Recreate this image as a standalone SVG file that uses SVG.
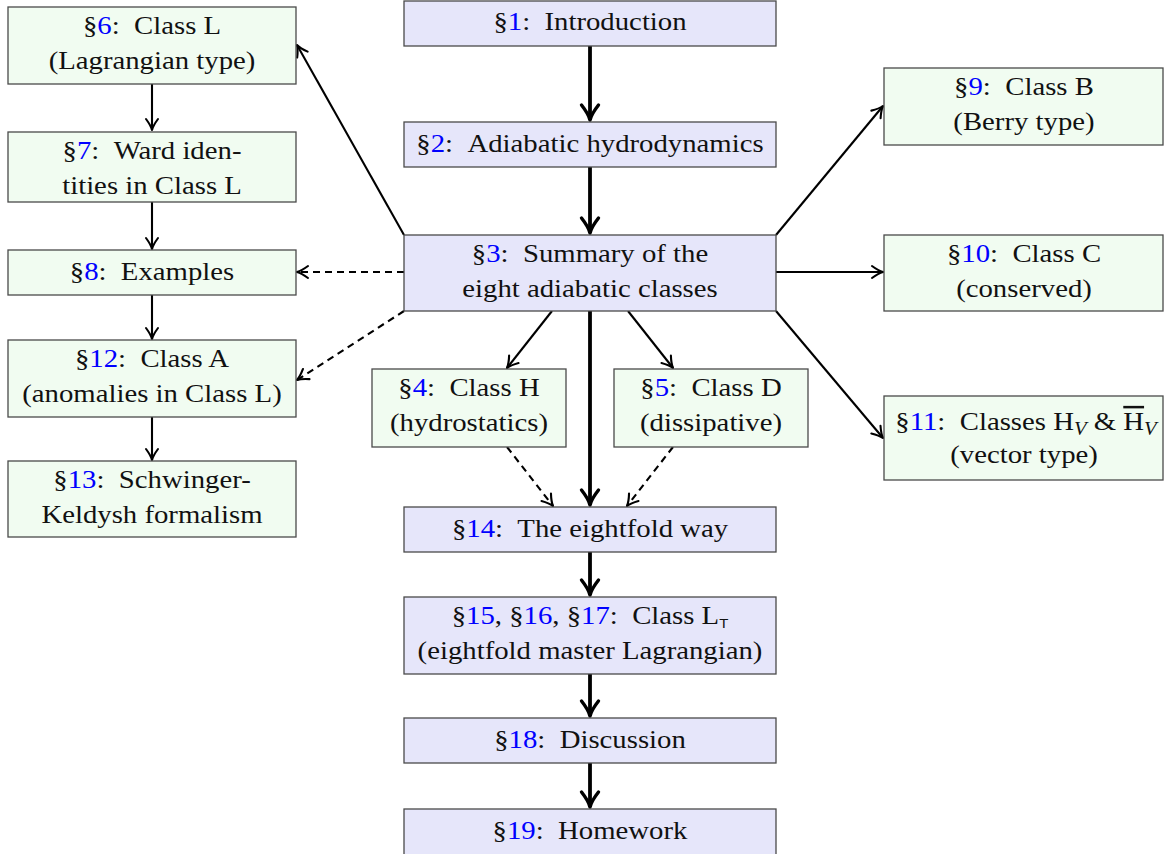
<svg xmlns="http://www.w3.org/2000/svg" width="1164" height="854" viewBox="0 0 1164 854">
<style>
.b{fill:#E6E6FA;stroke:#4a4a4a;stroke-width:1.3}
.g{fill:#F1FCF1;stroke:#4a4a4a;stroke-width:1.3}
text{font-family:"Liberation Serif","Times New Roman",serif;font-size:25px;fill:#111;text-anchor:middle}
.n{fill:#0000ff}
.c{fill:none;stroke:#000;stroke-width:2.1}
.k{fill:none;stroke:#000;stroke-width:3.8}
.d{stroke-dasharray:7 5}
</style>
<defs>
<marker id="ah" markerUnits="userSpaceOnUse" orient="auto" markerWidth="20" markerHeight="20" refX="0" refY="0" style="overflow:visible">
<path d="M-11,-6 Q-4.5,-1.2 0,0 Q-4.5,1.2 -11,6" fill="none" stroke="#000" stroke-width="2.1" stroke-linecap="round" stroke-linejoin="round"/>
</marker>
<marker id="ahk" markerUnits="userSpaceOnUse" orient="auto" markerWidth="30" markerHeight="30" refX="0" refY="0" style="overflow:visible">
<path d="M-15,-8.5 Q-6,-1.5 0,0 Q-6,1.5 -15,8.5" fill="none" stroke="#000" stroke-width="3.4" stroke-linecap="round" stroke-linejoin="round"/>
</marker>
</defs>

<g id="connectors">
<path class="k" d="M590,46 V120" marker-end="url(#ahk)"/>
<path class="k" d="M590,167 V233" marker-end="url(#ahk)"/>
<path class="k" d="M590,311 V505" marker-end="url(#ahk)"/>
<path class="k" d="M590,552 V595" marker-end="url(#ahk)"/>
<path class="k" d="M590,674 V716" marker-end="url(#ahk)"/>
<path class="k" d="M590,763 V807" marker-end="url(#ahk)"/>
<path class="c" d="M152,84 V130" marker-end="url(#ah)"/>
<path class="c" d="M152,202 V249" marker-end="url(#ah)"/>
<path class="c" d="M152,295 V339" marker-end="url(#ah)"/>
<path class="c" d="M152,417 V460" marker-end="url(#ah)"/>
<path class="c" d="M404,235 L297,45" marker-end="url(#ah)"/>
<path class="c d" d="M404,272 L297,272" marker-end="url(#ah)"/>
<path class="c d" d="M404,311 L297,380" marker-end="url(#ah)"/>
<path class="c" d="M552,311 L507,368" marker-end="url(#ah)"/>
<path class="c" d="M628,311 L673,368" marker-end="url(#ah)"/>
<path class="c d" d="M507,447 L553,506" marker-end="url(#ah)"/>
<path class="c d" d="M673,447 L627,506" marker-end="url(#ah)"/>
<path class="c" d="M776,235 L883,106" marker-end="url(#ah)"/>
<path class="c" d="M776,272 L883,272" marker-end="url(#ah)"/>
<path class="c" d="M776,311 L883,438" marker-end="url(#ah)"/>
</g>

<g id="n1"><rect class="b" x="404" y="1" width="372" height="45"/>
<text transform="translate(590,30) scale(1.15,1)">§<tspan class="n">1</tspan>:&#8194;Introduction</text></g>
<g id="n2"><rect class="b" x="404" y="122" width="372" height="45"/>
<text transform="translate(590,152) scale(1.15,1)">§<tspan class="n">2</tspan>:&#8194;Adiabatic hydrodynamics</text></g>
<g id="n3"><rect class="b" x="404" y="235" width="372" height="76"/>
<text transform="translate(590,262) scale(1.15,1)">§<tspan class="n">3</tspan>:&#8194;Summary of the</text>
<text transform="translate(590,297) scale(1.15,1)">eight adiabatic classes</text></g>
<g id="n14"><rect class="b" x="404" y="507" width="372" height="45"/>
<text transform="translate(590,537) scale(1.15,1)">§<tspan class="n">14</tspan>:&#8194;The eightfold way</text></g>
<g id="n15"><rect class="b" x="404" y="597" width="372" height="77"/>
<text transform="translate(590,624) scale(1.15,1)">§<tspan class="n">15</tspan>, §<tspan class="n">16</tspan>, §<tspan class="n">17</tspan>:&#8194;Class L<tspan dy="4" style="font-family:'Liberation Sans',sans-serif;font-size:13px">T</tspan></text>
<text transform="translate(590,659) scale(1.15,1)">(eightfold master Lagrangian)</text></g>
<g id="n18"><rect class="b" x="404" y="718" width="372" height="45"/>
<text transform="translate(590,748) scale(1.15,1)">§<tspan class="n">18</tspan>:&#8194;Discussion</text></g>
<g id="n19"><rect class="b" x="404" y="809" width="372" height="47"/>
<text transform="translate(590,839) scale(1.15,1)">§<tspan class="n">19</tspan>:&#8194;Homework</text></g>

<g id="n6"><rect class="g" x="8" y="7" width="288" height="77"/>
<text transform="translate(152,34) scale(1.15,1)">§<tspan class="n">6</tspan>:&#8194;Class L</text>
<text transform="translate(152,69) scale(1.15,1)">(Lagrangian type)</text></g>
<g id="n7"><rect class="g" x="8" y="132" width="288" height="70"/>
<text transform="translate(152,159) scale(1.15,1)">§<tspan class="n">7</tspan>:&#8194;Ward iden-</text>
<text transform="translate(152,194) scale(1.15,1)">tities in Class L</text></g>
<g id="n8"><rect class="g" x="8" y="250" width="288" height="45"/>
<text transform="translate(152,280) scale(1.15,1)">§<tspan class="n">8</tspan>:&#8194;Examples</text></g>
<g id="n12"><rect class="g" x="8" y="340" width="288" height="77"/>
<text transform="translate(152,367) scale(1.15,1)">§<tspan class="n">12</tspan>:&#8194;Class A</text>
<text transform="translate(152,402) scale(1.15,1)">(anomalies in Class L)</text></g>
<g id="n13"><rect class="g" x="8" y="461" width="288" height="76"/>
<text transform="translate(152,488) scale(1.15,1)">§<tspan class="n">13</tspan>:&#8194;Schwinger-</text>
<text transform="translate(152,523) scale(1.15,1)">Keldysh formalism</text></g>

<g id="n4"><rect class="g" x="372" y="369" width="194" height="78"/>
<text transform="translate(469,396) scale(1.15,1)">§<tspan class="n">4</tspan>:&#8194;Class H</text>
<text transform="translate(469,431) scale(1.15,1)">(hydrostatics)</text></g>
<g id="n5"><rect class="g" x="614" y="369" width="194" height="78"/>
<text transform="translate(711,396) scale(1.15,1)">§<tspan class="n">5</tspan>:&#8194;Class D</text>
<text transform="translate(711,431) scale(1.15,1)">(dissipative)</text></g>

<g id="n9"><rect class="g" x="884" y="68" width="279" height="77"/>
<text transform="translate(1024,95) scale(1.15,1)">§<tspan class="n">9</tspan>:&#8194;Class B</text>
<text transform="translate(1024,130) scale(1.15,1)">(Berry type)</text></g>
<g id="n10"><rect class="g" x="884" y="235" width="279" height="76"/>
<text transform="translate(1024,262) scale(1.15,1)">§<tspan class="n">10</tspan>:&#8194;Class C</text>
<text transform="translate(1024,297) scale(1.15,1)">(conserved)</text></g>
<g id="n11"><rect class="g" x="884" y="396" width="279" height="84"/>
<text transform="translate(1026,430) scale(1.15,1)">§<tspan class="n">11</tspan>:&#8194;Classes H<tspan dy="5" style="font-style:italic;font-size:18px">V</tspan><tspan dy="-5"> &amp; </tspan><tspan style="text-decoration:overline">H</tspan><tspan dy="5" style="font-style:italic;font-size:18px">V</tspan></text>
<text transform="translate(1024,463) scale(1.15,1)">(vector type)</text></g>
</svg>
